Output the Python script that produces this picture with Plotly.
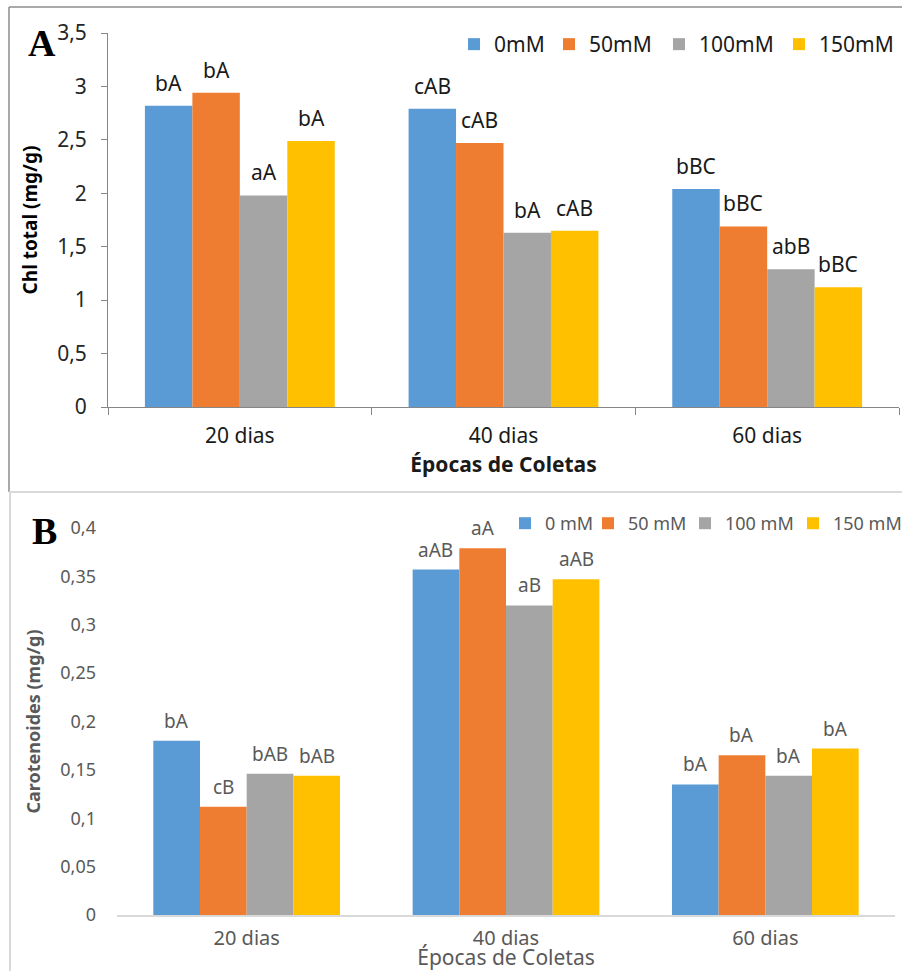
import plotly.graph_objects as go

categories = ["20 dias", "40 dias", "60 dias"]
series_names_a = ["0mM", "50mM", "100mM", "150mM"]
series_names_b = ["0 mM", "50 mM", "100 mM", "150 mM"]

chl_0 = [2.82, 2.79, 2.04]
chl_50 = [2.94, 2.47, 1.69]
chl_100 = [1.98, 1.63, 1.29]
chl_150 = [2.49, 1.65, 1.12]
chl_labels_0 = ["bA", "cAB", "bBC"]
chl_labels_50 = ["bA", "cAB", "bBC"]
chl_labels_100 = ["aA", "bA", "abB"]
chl_labels_150 = ["bA", "cAB", "bBC"]

car_0 = [0.180, 0.357, 0.135]
car_50 = [0.112, 0.379, 0.165]
car_100 = [0.146, 0.320, 0.144]
car_150 = [0.144, 0.347, 0.172]
car_labels_0 = ["bA", "aAB", "bA"]
car_labels_50 = ["cB", "aA", "bA"]
car_labels_100 = ["bAB", "aB", "bA"]
car_labels_150 = ["bAB", "aAB", "bA"]

colors = ["#5b9bd5", "#ee7d31", "#a5a5a5", "#ffc000"]
legend_w_a = [50, 65, 75, 78]
legend_w_b = [38, 52, 63, 66]

W, H = 902, 971
def px(x):
    return x / W
def py(y):
    return 1 - y / H

FONT = "Noto Sans"
NARROW = "Liberation Sans Narrow, Noto Sans"

fig = go.Figure()

chl_vals = [chl_0, chl_50, chl_100, chl_150]
chl_labs = [chl_labels_0, chl_labels_50, chl_labels_100, chl_labels_150]
car_vals = [car_0, car_50, car_100, car_150]
car_labs = [car_labels_0, car_labels_50, car_labels_100, car_labels_150]

for i in range(4):
    fig.add_trace(go.Bar(x=categories, y=chl_vals[i], name=series_names_a[i],
                         marker=dict(color=colors[i], line=dict(width=0)),
                         legendwidth=legend_w_a[i],
                         xaxis="x", yaxis="y", legend="legend"))
for i in range(4):
    fig.add_trace(go.Bar(x=categories, y=car_vals[i], name=series_names_b[i],
                         marker=dict(color=colors[i], line=dict(width=0)),
                         legendwidth=legend_w_b[i],
                         xaxis="x2", yaxis="y2", legend="legend2"))

gap = 0.28
annotations = []
for vals, labs, xr, yr, shift, fnt in [
    (chl_vals, chl_labs, "x", "y", 7, dict(family=FONT, size=21, color="#1a1a1a")),
    (car_vals, car_labs, "x2", "y2", 5, dict(family=FONT, size=19, color="#595959")),
]:
    bw = (1 - gap) / 4
    for k in range(4):
        off = -(1 - gap) / 2 + (k + 0.5) * bw
        for c in range(3):
            annotations.append(dict(x=c + off, y=vals[k][c], xref=xr, yref=yr,
                                    text=labs[k][c], showarrow=False,
                                    xanchor="center", yanchor="bottom", yshift=shift, font=fnt))

annotations.append(dict(x=px(42), y=py(43), xref="paper", yref="paper", text="<b>A</b>",
                        xanchor="center", yanchor="middle", showarrow=False,
                        font=dict(family="Liberation Serif", size=38, color="black")))
annotations.append(dict(x=px(44), y=py(531), xref="paper", yref="paper", text="<b>B</b>",
                        xanchor="center", yanchor="middle", showarrow=False,
                        font=dict(family="Liberation Serif", size=38, color="black")))

shapes = [
    dict(type="line", xref="paper", yref="paper", x0=px(9), x1=1, y0=py(7), y1=py(7),
         line=dict(color="#8c8c8c", width=1.5)),
    dict(type="line", xref="paper", yref="paper", x0=px(9), x1=px(9), y0=py(7), y1=py(492),
         line=dict(color="#8c8c8c", width=1.5)),
    dict(type="line", xref="paper", yref="paper", x0=px(9), x1=1, y0=py(492), y1=py(492),
         line=dict(color="#d9d9d9", width=2)),
    dict(type="line", xref="paper", yref="paper", x0=px(10), x1=px(10), y0=py(492), y1=0,
         line=dict(color="#d9d9d9", width=2)),
]

fig.update_layout(
    width=W, height=H, margin=dict(l=0, r=0, t=0, b=0, autoexpand=False),
    paper_bgcolor="white", plot_bgcolor="white",
    separators=",.",
    barmode="group", bargap=gap,
    showlegend=True,
    annotations=annotations, shapes=shapes,
    xaxis=dict(domain=[px(108), px(899)], anchor="y", type="category", automargin=False,
               tickson="boundaries", ticks="outside", ticklen=7, tickcolor="#868686",
               showline=True, linecolor="#868686", linewidth=1, showgrid=False,
               ticklabelstandoff=10,
               tickfont=dict(family=NARROW, size=21, color="#1a1a1a"),
               title=dict(text="<b>Épocas de Coletas</b>", standoff=9,
                          font=dict(family=FONT, size=21, color="#1a1a1a"))),
    yaxis=dict(domain=[py(407), py(33)], anchor="x", range=[0, 3.5], dtick=0.5, automargin=False,
               ticks="outside", ticklen=6, tickcolor="#868686",
               showline=True, linecolor="#868686", linewidth=1, showgrid=False,
               zeroline=False, ticklabelstandoff=10,
               tickfont=dict(family=FONT, size=21, color="#262626"),
               title=dict(text="<b>Chl total (mg/g)</b>", standoff=14,
                          font=dict(family=FONT, size=19, color="#000000"))),
    xaxis2=dict(domain=[px(117), px(895)], anchor="y2", type="category", automargin=False,
                ticks="", showline=True, linecolor="#d9d9d9", linewidth=1.5, showgrid=False,
                ticklabelstandoff=4,
                tickfont=dict(family=NARROW, size=20, color="#595959"),
                title=dict(text="Épocas de Coletas", standoff=0,
                           font=dict(family=NARROW, size=21, color="#595959"))),
    yaxis2=dict(domain=[py(915), py(528)], anchor="x2", range=[0, 0.4], dtick=0.05, automargin=False,
                ticks="", showline=False, showgrid=False, zeroline=False,
                ticklabelstandoff=20,
                tickfont=dict(family=FONT, size=18, color="#595959"),
                title=dict(text="<b>Carotenoides (mg/g)</b>", standoff=14,
                           font=dict(family=FONT, size=18, color="#595959"))),
    legend=dict(orientation="h", x=px(902), xanchor="right", y=py(24), yanchor="top",
                font=dict(family=FONT, size=21, color="#1a1a1a"), bgcolor="rgba(0,0,0,0)"),
    legend2=dict(orientation="h", x=px(904), xanchor="right", y=py(505), yanchor="top",
                 font=dict(family=FONT, size=18, color="#595959"), bgcolor="rgba(0,0,0,0)"),
)

fig.write_html("out.html", config={"displayModeBar": False},
               post_script="document.body.style.margin='0';document.body.style.overflow='hidden';")
